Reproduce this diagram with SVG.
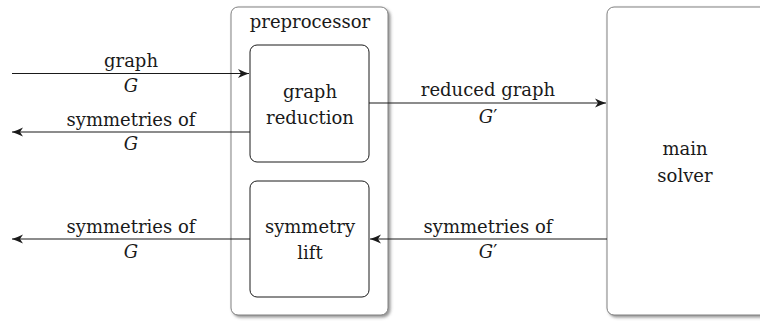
<svg xmlns="http://www.w3.org/2000/svg" width="760" height="322" viewBox="0 0 760 322">
<style>
.t{font-size:18px;fill:#1a1a1a;text-anchor:middle}
.m{font-style:italic}
.outer{fill:#fff;stroke:#808080;stroke-width:1}
.inner{fill:#fff;stroke:#1a1a1a;stroke-width:1}
.c{stroke:#1a1a1a;stroke-width:1.1;fill:none}
</style>
<defs>
<filter id="sh" x="-10%" y="-10%" width="130%" height="130%">
<feDropShadow dx="2" dy="2" stdDeviation="1.5" flood-color="#666" flood-opacity="0.7"/>
</filter>
<marker id="ah" viewBox="0 0 12 10" refX="11" refY="5" markerWidth="12" markerHeight="10" markerUnits="userSpaceOnUse" orient="auto">
<path d="M0,0.5 Q6,3.5 11,5 Q6,6.5 0,9.5 L3,5 z" fill="#1a1a1a"/>
</marker>
</defs>
<g font-family="DejaVu Serif, serif">
<g id="preprocessor">
<rect class="outer" x="231" y="7" width="157" height="308" rx="7" filter="url(#sh)"/>
<text class="t" x="310" y="28">preprocessor</text>
</g>
<g id="main-solver">
<rect class="outer" x="607" y="7" width="200" height="308" rx="7" filter="url(#sh)"/>
<text class="t" x="685" y="155">main</text>
<text class="t" x="685" y="182">solver</text>
</g>
<g id="graph-reduction">
<rect class="inner" x="250" y="45" width="119" height="117" rx="7"/>
<text class="t" x="310" y="98">graph</text>
<text class="t" x="310" y="124">reduction</text>
</g>
<g id="symmetry-lift">
<rect class="inner" x="250" y="181" width="119" height="116" rx="7"/>
<text class="t" x="310" y="233">symmetry</text>
<text class="t" x="310" y="259">lift</text>
</g>
<g id="connectors">
<line class="c" x1="12" y1="73.5" x2="249" y2="73.5" marker-end="url(#ah)"/>
<line class="c" x1="250" y1="132" x2="12" y2="132" marker-end="url(#ah)"/>
<line class="c" x1="250" y1="239" x2="12" y2="239" marker-end="url(#ah)"/>
<line class="c" x1="369" y1="103" x2="606" y2="103" marker-end="url(#ah)"/>
<line class="c" x1="607" y1="239" x2="370" y2="239" marker-end="url(#ah)"/>
<text class="t" x="131" y="67">graph</text>
<text class="t m" x="131" y="92">G</text>
<text class="t" x="131" y="126">symmetries of</text>
<text class="t m" x="131" y="150">G</text>
<text class="t" x="131" y="233">symmetries of</text>
<text class="t m" x="131" y="258">G</text>
<text class="t" x="488" y="96">reduced graph</text>
<text class="t m" x="488" y="123">G<tspan font-style="normal">′</tspan></text>
<text class="t" x="488" y="233">symmetries of</text>
<text class="t m" x="488" y="258">G<tspan font-style="normal">′</tspan></text>
</g>
</g>
</svg>
